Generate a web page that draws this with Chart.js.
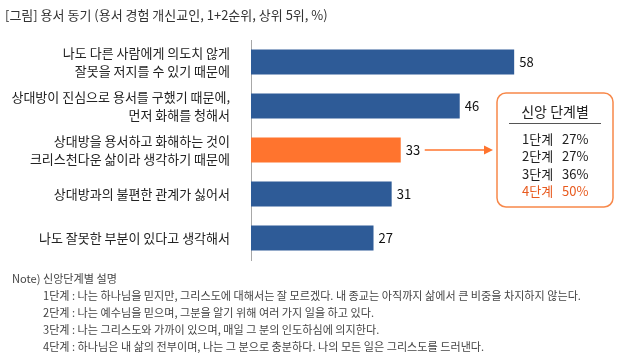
<!DOCTYPE html>
<html>
<head>
<meta charset="utf-8">
<script src="https://cdn.jsdelivr.net/npm/chart.js@4"></script>
<style>
  body { margin: 0; background: #fff; }
  canvas { display: block; }
</style>
</head>
<body>
<canvas id="canvas" width="632" height="363"></canvas>
<script>
const ctx = document.getElementById("canvas");

const FONT = "'Noto Sans CJK KR', 'Noto Sans', sans-serif";

// bar categories (multi-line labels) and values (%)
const categories = [
  ["나도 다른 사람에게 의도치 않게", "잘못을 저지를 수 있기 때문에"],
  ["상대방이 진심으로 용서를 구했기 때문에,", "먼저 화해를 청해서"],
  ["상대방을 용서하고 화해하는 것이", "크리스천다운 삶이라 생각하기 때문에"],
  "상대방과의 불편한 관계가 싫어서",
  "나도 잘못한 부분이 있다고 생각해서",
];
const values = [58, 46, 33, 31, 27];
const highlightIndex = 2;

// side box: share by faith stage
const stageLabels = ["1단계", "2단계", "3단계", "4단계"];
const stageValues = ["27%", "27%", "36%", "50%"];

const titleText = "[그림] 용서 동기 (용서 경험 개신교인, 1+2순위, 상위 5위, %)";
const noteTitle = "Note) 신앙단계별 설명";
const notes = [
  "1단계 : 나는 하나님을 믿지만, 그리스도에 대해서는 잘 모르겠다. 내 종교는 아직까지 삶에서 큰 비중을 차지하지 않는다.",
  "2단계 : 나는 예수님을 믿으며, 그분을 알기 위해 여러 가지 일을 하고 있다.",
  "3단계 : 나는 그리스도와 가까이 있으며, 매일 그 분의 인도하심에 의지한다.",
  "4단계 : 하나님은 내 삶의 전부이며, 나는 그 분으로 충분하다. 나의 모든 일은 그리스도를 드러낸다.",
];

const BLUE = "#2E5B97";
const ORANGE = "#FF742E";

const barColors = values.map((v, i) => (i === highlightIndex ? ORANGE : BLUE));

const extras = {
  id: "extras",
  afterDatasetsDraw(chart) {
    const { ctx, scales } = chart;
    const meta = chart.getDatasetMeta(0);

    ctx.save();
    // value labels
    ctx.font = `13px ${FONT}`;
    ctx.textAlign = "left";
    ctx.textBaseline = "middle";
    ctx.fillStyle = "#111";
    meta.data.forEach((bar, i) => {
      ctx.fillText(String(values[i]), bar.x + 5, bar.y);
    });

    // title
    ctx.font = `13px ${FONT}`;
    ctx.fillStyle = "#333";
    ctx.fillText(titleText, 5, 15);

    // arrow from highlighted bar to box
    const hb = meta.data[highlightIndex];
    const ay = hb.y;
    const ax0 = scales.x.getPixelForValue(values[highlightIndex]) + 24;
    const ax1 = 493;
    ctx.strokeStyle = ORANGE;
    ctx.fillStyle = ORANGE;
    ctx.lineWidth = 1.5;
    ctx.beginPath();
    ctx.moveTo(ax0, ay);
    ctx.lineTo(ax1 - 7, ay);
    ctx.stroke();
    ctx.beginPath();
    ctx.moveTo(ax1, ay);
    ctx.lineTo(ax1 - 9, ay - 4.5);
    ctx.lineTo(ax1 - 9, ay + 4.5);
    ctx.closePath();
    ctx.fill();

    // side box
    ctx.strokeStyle = "#F7884A";
    ctx.lineWidth = 1.5;
    ctx.beginPath();
    ctx.roundRect(497, 93, 116, 114, 9);
    ctx.stroke();

    ctx.fillStyle = "#222";
    ctx.textAlign = "center";
    ctx.font = `14px ${FONT}`;
    ctx.fillText("신앙 단계별", 555, 112);
    ctx.strokeStyle = "#555";
    ctx.lineWidth = 1;
    ctx.beginPath();
    ctx.moveTo(509, 123.5);
    ctx.lineTo(601, 123.5);
    ctx.stroke();

    ctx.textAlign = "left";
    ctx.font = `13px ${FONT}`;
    stageLabels.forEach((s, i) => {
      const y = 139 + i * 17.3;
      ctx.fillStyle = i === 3 ? "#E85A1E" : "#222";
      ctx.fillText(s, 522, y);
      ctx.fillText(stageValues[i], 562, y);
    });

    // notes
    ctx.font = `11.1px ${FONT}`;
    ctx.fillStyle = "#444";
    ctx.fillText(noteTitle, 12, 279);
    notes.forEach((n, i) => {
      ctx.fillText(n, 43, 296 + i * 16.8);
    });
    ctx.restore();
  },
};

new Chart(ctx, {
  type: "bar",
  data: {
    labels: categories,
    datasets: [
      {
        data: values,
        backgroundColor: barColors,
        categoryPercentage: 1.0,
        barPercentage: 25 / 44,
      },
    ],
  },
  plugins: [extras],
  options: {
    indexAxis: "y",
    responsive: false,
    animation: false,
    layout: { padding: { top: 40, bottom: 103, right: 18, left: 0 } },
    plugins: {
      legend: { display: false },
      tooltip: { enabled: false },
    },
    scales: {
      x: { display: false, min: 0, max: 80 },
      y: {
        afterFit(scale) {
          scale.width = 251;
        },
        grid: { display: false },
        border: { display: true, color: "#A8A8A8", width: 1 },
        ticks: {
          color: "#222",
          padding: 13,
          font: { size: 13, family: FONT, lineHeight: 1.4 },
        },
      },
    },
  },
});
</script>
</body>
</html>
